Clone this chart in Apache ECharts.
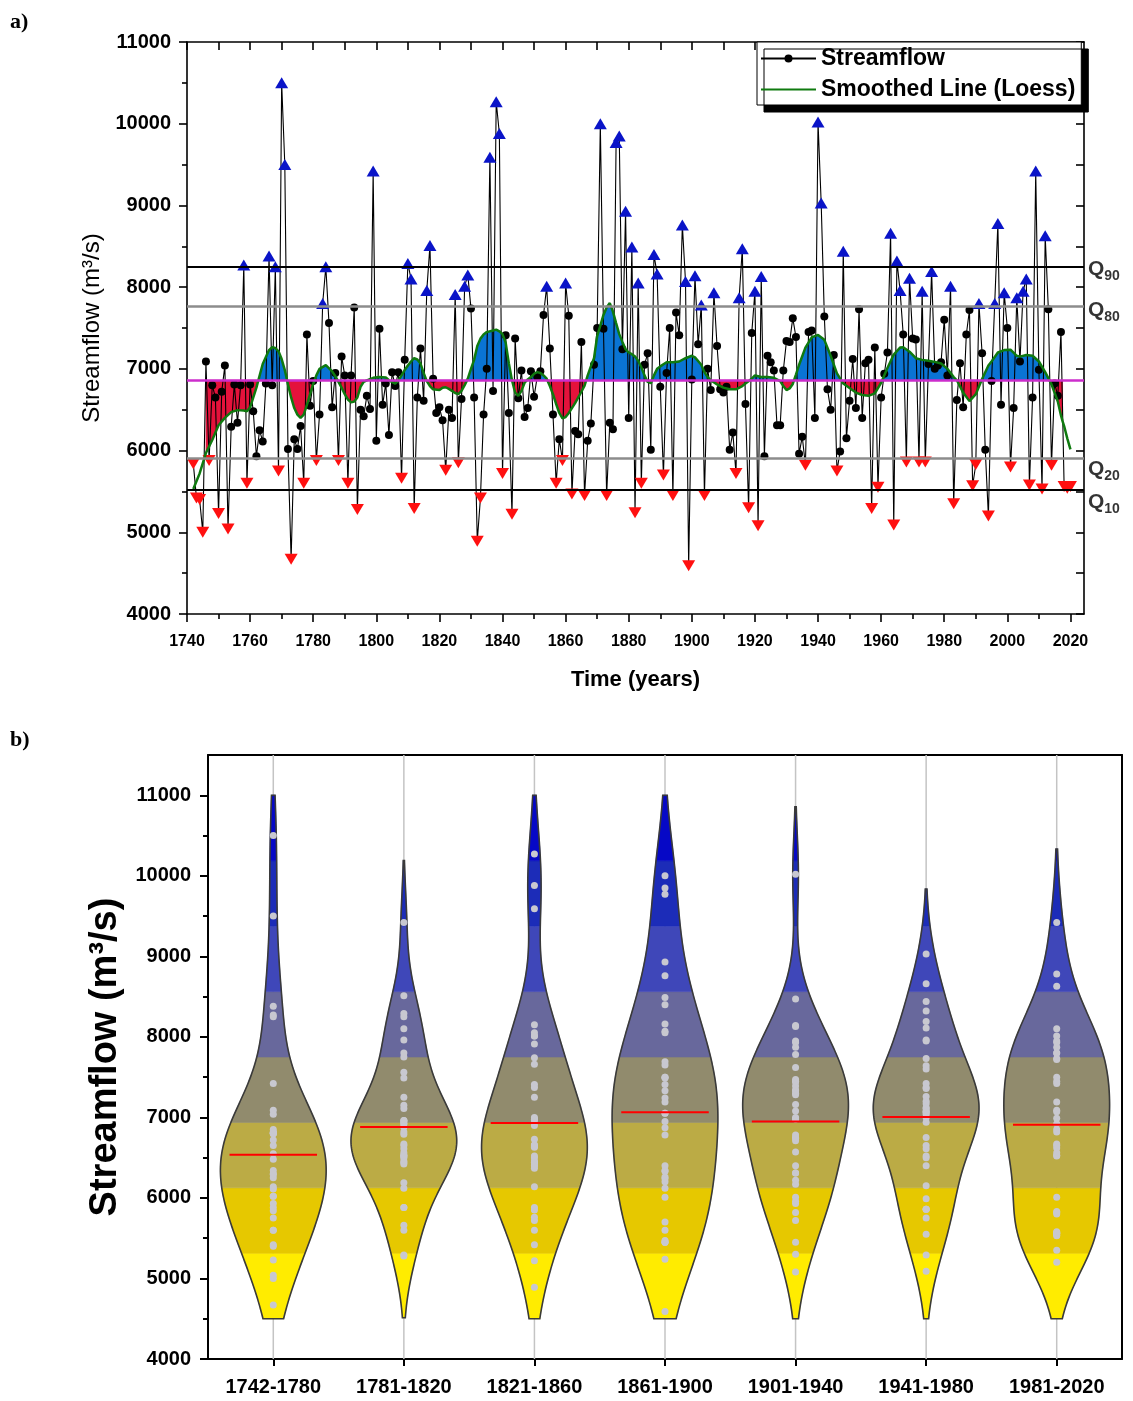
<!DOCTYPE html>
<html>
<head>
<meta charset="utf-8">
<script src="https://cdn.jsdelivr.net/npm/echarts@6/dist/echarts.min.js"></script>
<style>
  html, body { margin: 0; padding: 0; background: #fff; }
  #chart { width: 1133px; height: 1401px; }
</style>
</head>
<body>
<div id="chart"></div>
<script>
// ---------------- data ----------------
const firstYear = 1742;
// annual streamflow (m3/s), 1742-2020
const streamflow = [
  5840, 5420, 5400, 5000, 7090, 5880, 6800, 6650,
  5230, 6720, 7040, 5040, 6290, 6810, 6340, 6800, 8270, 5600,
  6810, 6480, 5930, 6250, 6110, 6820, 8380, 6800, 8250, 5750,
  10500, 9500, 6020, 4670, 6140, 6020, 6300, 5600, 7420, 6550,
  6850, 5880, 6440, 7800, 8250, 7560, 6530, 6950, 5880, 7150,
  6920, 5600, 6920, 7750, 5280, 6500, 6420, 6670, 6510, 9420,
  6120, 7490, 6560, 6820, 6190, 6960, 6790, 6960, 5660, 7110,
  8290, 8100, 5290, 6650, 7250, 6610, 7960, 8510, 6880, 6460,
  6530, 6370, 5760, 6500, 6400, 7910, 5850, 6630, 8010, 8150,
  7740, 6650, 4890, 5420, 6440, 7000, 9590, 6730, 10270, 9880,
  5720, 7410, 6460, 5220, 7370, 6640, 6980, 6410, 6520, 6970,
  6660, 6900, 6970, 7660, 8010, 7250, 6440, 5600, 6140, 5880,
  8050, 7650, 5470, 6240, 6200, 7330, 5450, 6120, 6330, 7050,
  7500, 10000, 7490, 5450, 6340, 6260, 9770, 9850, 7240, 8930,
  6400, 8490, 5240, 8050, 5600, 7050, 7190, 6010, 8400, 8160,
  6780, 5700, 6950, 7500, 5450, 7690, 7410, 8760, 8070, 4590,
  6870, 8140, 7300, 7780, 5450, 7000, 6740, 7930, 7280, 6750,
  6710, 6780, 6010, 6220, 5720, 7870, 8470, 6570, 5300, 7440,
  7950, 5080, 8130, 5930, 7160, 7080, 6980, 6310, 6310, 6980,
  7340, 7330, 7620, 7390, 5960, 6170, 5820, 7450, 7470, 6400,
  10020, 9030, 7640, 6750, 6500, 7170, 5750, 5990, 8440, 6150,
  6610, 7120, 6520, 7730, 6400, 7070, 7110, 5290, 7260, 5550,
  6650, 6940, 7200, 8660, 5090, 8320, 7960, 7420, 5860, 8110,
  7370, 7360, 5860, 7950, 5860, 7060, 8190, 7000, 7040, 7080,
  7600, 6920, 8010, 5350, 6620, 7070, 6530, 7420, 7720, 5570,
  5830, 7800, 7190, 6010, 5200, 6850, 7800, 8780, 6560, 7930,
  7500, 5800, 6520, 7870, 7090, 7950, 8100, 5580, 6650, 9420,
  6990, 5530, 8630, 7730, 5820, 6820, 6670, 7450, 5560, 5540, 5560
];

// Loess-smoothed streamflow
const loessYears = [
  1742, 1744, 1746, 1748, 1750, 1752, 1754, 1756, 1758, 1759, 1760, 1762, 1764, 1766, 1767, 1768, 1769,
  1770, 1771, 1772, 1773, 1774, 1775, 1776, 1777, 1778, 1779, 1780, 1781, 1782, 1784, 1786, 1787, 1788,
  1789, 1790, 1791, 1792, 1793, 1794, 1795, 1796, 1797, 1799, 1801, 1803, 1804, 1806, 1807, 1808, 1809,
  1810, 1811, 1812, 1813, 1814, 1815, 1816, 1817, 1818, 1820, 1821, 1822, 1823, 1824, 1825, 1826, 1827,
  1828, 1829, 1830, 1831, 1832, 1833, 1834, 1835, 1837, 1838, 1839, 1840, 1841, 1842, 1843, 1844, 1845,
  1846, 1847, 1848, 1849, 1850, 1851, 1852, 1853, 1854, 1855, 1856, 1857, 1858, 1859, 1860, 1861, 1862,
  1863, 1864, 1865, 1866, 1867, 1868, 1869, 1870, 1871, 1872, 1873, 1874, 1875, 1876, 1877, 1878, 1879,
  1880, 1881, 1882, 1883, 1884, 1885, 1886, 1887, 1888, 1889, 1890, 1892, 1894, 1896, 1898, 1900, 1901,
  1903, 1904, 1905, 1906, 1908, 1910, 1912, 1914, 1916, 1917, 1919, 1920, 1921, 1922, 1924, 1926, 1928,
  1929, 1930, 1931, 1932, 1933, 1934, 1936, 1938, 1940, 1942, 1944, 1946, 1948, 1950, 1952, 1954, 1956,
  1958, 1960, 1962, 1964, 1966, 1967, 1969, 1971, 1973, 1975, 1977, 1979, 1981, 1983, 1984, 1986, 1988,
  1990, 1992, 1994, 1995, 1997, 1999, 2001, 2003, 2004, 2006, 2008, 2010, 2012, 2014, 2016, 2017, 2017.5,
  2018, 2019, 2020
];
const loessValues = [
  5530, 5720, 5970, 6130, 6310, 6400, 6470, 6495, 6490, 6480, 6530, 6770, 7060, 7230, 7265, 7255, 7215,
  7120, 6985, 6810, 6650, 6520, 6440, 6400, 6440, 6560, 6690, 6815, 6920, 7000, 7045, 6970, 6910, 6840,
  6770, 6690, 6625, 6590, 6600, 6650, 6780, 6840, 6860, 6890, 6900, 6895, 6860, 6820, 6860, 6920, 6985,
  7040, 7090, 7130, 7115, 7065, 6950, 6850, 6790, 6750, 6740, 6770, 6775, 6755, 6730, 6705, 6690, 6730,
  6800, 6880, 7000, 7110, 7280, 7370, 7420, 7450, 7470, 7480, 7460, 7425, 7320, 7070, 6860, 6710, 6670,
  6730, 6830, 6870, 6900, 6940, 6960, 6950, 6920, 6880, 6790, 6690, 6570, 6460, 6395, 6410, 6460, 6520,
  6580, 6650, 6720, 6795, 6920, 7030, 7130, 7400, 7530, 7660, 7750, 7805, 7700, 7560, 7425, 7330, 7240,
  7200, 7180, 7150, 7100, 7020, 6920, 6840, 6825, 6920, 7000, 7030, 7080, 7080, 7090, 7130, 7160, 7140,
  7050, 6960, 6900, 6860, 6810, 6770, 6750, 6750, 6790, 6820, 6880, 6920, 6910, 6900, 6900, 6890, 6850,
  6790, 6740, 6760, 6815, 6930, 7050, 7260, 7385, 7415, 7355, 7160, 6945, 6820, 6765, 6710, 6680, 6670,
  6700, 6830, 7010, 7175, 7260, 7265, 7210, 7130, 7110, 7100, 7085, 7065, 7000, 6900, 6860, 6710, 6605,
  6690, 6875, 7040, 7090, 7200, 7230, 7235, 7160, 7150, 7170, 7160, 7090, 6960, 6810, 6600, 6430, 6360,
  6300, 6150, 6015
];

const meanFlow = 6860;
const quantileNames = ['90', '80', '20', '10'];
const quantileValues = [8250, 7770, 5900, 5520];
const fillFrom = 1746;
const fillTo = 2017.5;

const yearTicks = [1740, 1760, 1780, 1800, 1820, 1840, 1860, 1880, 1900, 1920, 1940, 1960, 1980, 2000, 2020];
const yearMinorTicks = [1750, 1770, 1790, 1810, 1830, 1850, 1870, 1890, 1910, 1930, 1950, 1970, 1990, 2010];
const flowTicks = [4000, 5000, 6000, 7000, 8000, 9000, 10000, 11000];
const flowMinorTicks = [4500, 5500, 6500, 7500, 8500, 9500, 10500];

const periodLabels = ['1742-1780', '1781-1820', '1821-1860', '1861-1900', '1901-1940', '1941-1980', '1981-2020'];
const periodStarts = [1742, 1781, 1821, 1861, 1901, 1941, 1981];
const periodEnds = [1780, 1820, 1860, 1900, 1940, 1980, 2020];
const periodMedians = [6535, 6880, 6930, 7065, 6950, 7005, 6910];

// flow classes used to colour the violins
const bandEdges = [4500, 5312.5, 6125, 6937.5, 7750, 8562.5, 9375, 10187.5, 11000];
const bandColors = ['#ffec00', '#e6c800', '#bbab45', '#918b6d', '#68689c', '#3f47b9', '#1c2cb8', '#0608c6'];

// ---------------- helpers ----------------
const SANS = '"Liberation Sans", Arial, sans-serif';
const xMax = 2024.3;
const plain = v => String(v);
const years = streamflow.map((_, i) => firstYear + i);
const highCut = quantileValues[1];
const lowCut = quantileValues[2];

const flowPoints = streamflow.map((v, i) => {
  if (v > highCut) {
    return { value: [years[i], v], symbol: 'triangle', symbolSize: [13, 11], itemStyle: { color: '#0a14c8' } };
  }
  if (v < lowCut) {
    return { value: [years[i], v], symbol: 'triangle', symbolRotate: 180, symbolSize: [13, 11], itemStyle: { color: '#ff1010' } };
  }
  return [years[i], v];
});
const loessPoints = loessYears.map((y, i) => [y, loessValues[i]]);

// Gaussian kernel density (normal-reference bandwidth), normalised to 1 at its peak
function kdeProfile(values) {
  const n = values.length;
  const m = values.reduce((a, b) => a + b, 0) / n;
  const sd = Math.sqrt(values.reduce((a, b) => a + (b - m) * (b - m), 0) / (n - 1));
  const s = values.slice().sort((a, b) => a - b);
  const h = 1.06 * sd * Math.pow(n, -0.2);
  const lo = Math.max(bandEdges[0], s[0] - 1.7 * h);
  const hi = Math.min(bandEdges[bandEdges.length - 1], s[n - 1] + 1.7 * h);
  let ys = [];
  for (let y = lo; y < hi; y += 25) ys.push(y);
  ys.push(hi);
  bandEdges.forEach(e => { if (e > lo && e < hi) ys.push(e); });
  ys = Array.from(new Set(ys)).sort((a, b) => a - b);
  const dens = ys.map(y => values.reduce((acc, v) => acc + Math.exp(-0.5 * ((y - v) / h) * ((y - v) / h)), 0));
  const mx = Math.max.apply(null, dens);
  return ys.map((y, i) => [y, dens[i] / mx]);
}

const periodValues = periodStarts.map((s, i) => streamflow.filter((_, j) => years[j] >= s && years[j] <= periodEnds[i]));
const violinProfiles = periodValues.map(kdeProfile);
const periodDots = [];
periodValues.forEach((vals, i) => vals.forEach(v => periodDots.push([i, v])));

function renderLoessFill(params, api) {
  const pts = loessPoints.filter(p => p[0] >= fillFrom && p[0] <= fillTo);
  const regions = [];
  let side = Math.sign(pts[0][1] - meanFlow) || 1;
  let poly = [[pts[0][0], meanFlow], pts[0]];
  for (let i = 1; i < pts.length; i++) {
    const x0 = pts[i - 1][0], v0 = pts[i - 1][1], x1 = pts[i][0], v1 = pts[i][1];
    const s = Math.sign(v1 - meanFlow);
    if (s !== 0 && s !== side) {
      const xc = x0 + (meanFlow - v0) / (v1 - v0) * (x1 - x0);
      poly.push([xc, meanFlow]);
      regions.push({ side, poly });
      poly = [[xc, meanFlow]];
      side = s;
    }
    poly.push(pts[i]);
  }
  poly.push([pts[pts.length - 1][0], meanFlow]);
  regions.push({ side, poly });
  return {
    type: 'group',
    children: regions.map(r => ({
      type: 'polygon',
      shape: { points: r.poly.map(p => api.coord(p)) },
      style: { fill: r.side > 0 ? '#0a74d4' : '#e4123b', stroke: r.side > 0 ? '#0a74d4' : '#e4123b', lineWidth: 0.5 }
    }))
  };
}

function renderViolin(params, api) {
  const idx = api.value(0);
  const prof = violinProfiles[idx];
  const cx = api.coord([idx, meanFlow])[0];
  const half = api.size([1, 0])[0] * 0.405;
  const top = params.coordSys.y, bottom = top + params.coordSys.height;
  const children = [{
    type: 'line', shape: { x1: cx, y1: top, x2: cx, y2: bottom },
    style: { stroke: '#c4c4c4', lineWidth: 1.5 }
  }];
  const pt = (p, sgn) => [cx + sgn * p[1] * half, api.coord([idx, p[0]])[1]];
  bandColors.forEach((c, k) => {
    const seg = prof.filter(p => p[0] >= bandEdges[k] && p[0] <= bandEdges[k + 1]);
    if (seg.length < 2) return;
    const pts = seg.map(p => pt(p, 1)).concat(seg.slice().reverse().map(p => pt(p, -1)));
    children.push({ type: 'polygon', shape: { points: pts }, style: { fill: c, stroke: c, lineWidth: 0.6 } });
  });
  const outline = prof.map(p => pt(p, 1)).concat(prof.slice().reverse().map(p => pt(p, -1)));
  children.push({ type: 'polygon', shape: { points: outline }, style: { fill: null, stroke: '#3a3a3a', lineWidth: 1.6 } });
  return { type: 'group', children };
}

function renderMedian(params, api) {
  const c = api.coord([api.value(0), api.value(1)]);
  const half = api.size([1, 0])[0] * 0.335;
  return { type: 'line', shape: { x1: c[0] - half, y1: c[1], x2: c[0] + half, y2: c[1] }, style: { stroke: '#ff0000', lineWidth: 2 } };
}

const axisLineStyle = { color: '#000', width: 1.6 };
const hiddenAxisBits = { axisLabel: { show: false }, splitLine: { show: false } };

const option = {
  animation: false,
  backgroundColor: '#fff',
  textStyle: { fontFamily: SANS },
  graphic: [
    { type: 'text', left: 10, top: 11, style: { text: 'a)', font: 'bold 22px "Liberation Serif", serif', fill: '#000' } },
    { type: 'text', left: 10, top: 729, style: { text: 'b)', font: 'bold 22px "Liberation Serif", serif', fill: '#000' } }
  ],
  legend: {
    data: [
      { name: 'Streamflow' },
      { name: 'Smoothed Line (Loess)', itemStyle: { opacity: 0 } }
    ],
    orient: 'vertical',
    left: 757, top: 42,
    padding: [5, 6, 4, 3],
    itemWidth: 55, itemHeight: 10, itemGap: 8,
    backgroundColor: '#fff', borderColor: '#000', borderWidth: 1,
    shadowColor: '#000', shadowBlur: 0, shadowOffsetX: 7, shadowOffsetY: 7,
    selectedMode: false,
    z: 10,
    textStyle: { fontFamily: SANS, fontSize: 23, fontWeight: 'bold', color: '#000' }
  },
  grid: [
    { left: 187, top: 42, width: 897, height: 572 },
    { left: 208, top: 755, width: 914, height: 604 }
  ],
  xAxis: [
    {
      type: 'value', gridIndex: 0, min: 1740, max: xMax, position: 'bottom',
      axisLine: { show: true, onZero: false, lineStyle: axisLineStyle },
      axisTick: { show: true, length: 8, customValues: yearTicks, lineStyle: axisLineStyle },
      axisLabel: { customValues: yearTicks, formatter: plain, margin: 20, fontFamily: SANS, fontWeight: 'bold', fontSize: 16, color: '#000' },
      splitLine: { show: false },
      name: 'Time (years)', nameLocation: 'middle', nameGap: 55,
      nameTextStyle: { fontFamily: SANS, fontWeight: 'bold', fontSize: 22, color: '#000' }
    },
    Object.assign({
      type: 'value', gridIndex: 0, min: 1740, max: xMax, position: 'bottom',
      axisLine: { show: false },
      axisTick: { show: true, length: 5, customValues: yearMinorTicks, lineStyle: axisLineStyle }
    }, hiddenAxisBits),
    Object.assign({
      type: 'value', gridIndex: 0, min: 1740, max: xMax, position: 'top',
      axisLine: { show: true, onZero: false, lineStyle: axisLineStyle },
      axisTick: { show: true, inside: true, length: 8, customValues: yearTicks.concat(yearMinorTicks), lineStyle: axisLineStyle }
    }, hiddenAxisBits),
    {
      type: 'category', gridIndex: 1, data: periodLabels, position: 'bottom',
      axisLine: { show: true, lineStyle: { color: '#000', width: 2 } },
      axisTick: { show: true, alignWithLabel: true, length: 7, lineStyle: { color: '#000', width: 2 } },
      axisLabel: { margin: 18, fontFamily: SANS, fontWeight: 'bold', fontSize: 20, color: '#000' },
      splitLine: { show: false }
    },
    Object.assign({
      type: 'value', gridIndex: 1, min: 0, max: 1, position: 'top',
      axisLine: { show: true, onZero: false, lineStyle: { color: '#000', width: 2 } },
      axisTick: { show: false }
    }, hiddenAxisBits)
  ],
  yAxis: [
    {
      type: 'value', gridIndex: 0, min: 4000, max: 11000, interval: 1000, position: 'left',
      axisLine: { show: true, onZero: false, lineStyle: axisLineStyle },
      axisTick: { show: true, length: 8, lineStyle: axisLineStyle },
      minorTick: { show: true, splitNumber: 2, length: 5, lineStyle: axisLineStyle },
      axisLabel: { formatter: plain, margin: 16, fontFamily: SANS, fontWeight: 'bold', fontSize: 20, color: '#000' },
      splitLine: { show: false }, minorSplitLine: { show: false },
      name: 'Streamflow (m³/s)', nameLocation: 'middle', nameGap: 77,
      nameTextStyle: { fontFamily: SANS, fontSize: 24, color: '#000' }
    },
    Object.assign({
      type: 'value', gridIndex: 0, min: 4000, max: 11000, interval: 500, position: 'right',
      axisLine: { show: true, onZero: false, lineStyle: axisLineStyle },
      axisTick: { show: true, inside: true, length: 8, lineStyle: axisLineStyle }
    }, hiddenAxisBits),
    {
      type: 'value', gridIndex: 1, min: 4000, max: 11500, position: 'left',
      axisLine: { show: true, onZero: false, lineStyle: { color: '#000', width: 2 } },
      axisTick: { show: true, length: 8, customValues: flowTicks, lineStyle: { color: '#000', width: 2 } },
      axisLabel: { customValues: flowTicks, formatter: plain, margin: 17, fontFamily: SANS, fontWeight: 'bold', fontSize: 20, color: '#000' },
      splitLine: { show: false },
      name: 'Streamflow (m³/s)', nameLocation: 'middle', nameGap: 77,
      nameTextStyle: { fontFamily: SANS, fontSize: 38, fontWeight: 'bold', color: '#000' }
    },
    Object.assign({
      type: 'value', gridIndex: 1, min: 4000, max: 11500, position: 'left',
      axisLine: { show: false },
      axisTick: { show: true, length: 5, customValues: flowMinorTicks, lineStyle: { color: '#000', width: 2 } }
    }, hiddenAxisBits),
    Object.assign({
      type: 'value', gridIndex: 1, min: 4000, max: 11500, position: 'right',
      axisLine: { show: true, onZero: false, lineStyle: { color: '#000', width: 2 } },
      axisTick: { show: false }
    }, hiddenAxisBits)
  ],
  series: [
    {
      name: 'loessFill', type: 'custom', xAxisIndex: 0, yAxisIndex: 0, z: 1, silent: true,
      data: [[1880, meanFlow]], renderItem: renderLoessFill
    },
    {
      name: 'Streamflow', type: 'line', xAxisIndex: 0, yAxisIndex: 0, z: 3,
      data: flowPoints,
      symbol: 'circle', symbolSize: 8, showSymbol: true,
      itemStyle: { color: '#000' },
      lineStyle: { color: '#000', width: 1.1 },
      markLine: {
        silent: true, symbol: 'none', animation: false,
        label: { show: false },
        data: [
          { yAxis: quantileValues[0], lineStyle: { color: '#000', width: 2, type: 'solid' } },
          { yAxis: quantileValues[1], lineStyle: { color: '#8c8c8c', width: 2.5, type: 'solid' } },
          { yAxis: meanFlow, lineStyle: { color: '#cc2ecc', width: 2.5, type: 'solid' } },
          { yAxis: quantileValues[2], lineStyle: { color: '#8c8c8c', width: 2.5, type: 'solid' } },
          { yAxis: quantileValues[3], lineStyle: { color: '#000', width: 2, type: 'solid' } }
        ]
      }
    },
    {
      name: 'Smoothed Line (Loess)', type: 'line', xAxisIndex: 0, yAxisIndex: 0, z: 4,
      data: loessPoints, symbol: 'none', smooth: false,
      itemStyle: { color: '#0f7a0f' },
      lineStyle: { color: '#0f7a0f', width: 2.5 }
    },
    {
      name: 'quantileTags', type: 'scatter', xAxisIndex: 0, yAxisIndex: 0, z: 5, silent: true, clip: false,
      symbolSize: 0,
      data: quantileValues.map((v, i) => ({
        value: [xMax, v],
        label: { offset: [0, [2, 4, 10, 12][i]] }
      })),
      label: {
        show: true, position: 'right', distance: 4,
        formatter: p => '{q|Q}{s|' + quantileNames[p.dataIndex] + '}',
        rich: {
          q: { fontFamily: SANS, fontSize: 21, fontWeight: 'bold', color: '#000', lineHeight: 28 },
          s: { fontFamily: SANS, fontSize: 14, fontWeight: 'bold', color: '#000', lineHeight: 14, verticalAlign: 'bottom' }
        }
      }
    },
    {
      name: 'violins', type: 'custom', xAxisIndex: 3, yAxisIndex: 2, z: 2, silent: true,
      data: periodLabels.map((_, i) => [i]), renderItem: renderViolin
    },
    {
      name: 'periodDots', type: 'scatter', xAxisIndex: 3, yAxisIndex: 2, z: 3, silent: true,
      data: periodDots, symbolSize: 7, itemStyle: { color: '#c8c8d0', opacity: 1 }
    },
    {
      name: 'medians', type: 'custom', xAxisIndex: 3, yAxisIndex: 2, z: 4, silent: true,
      data: periodMedians.map((m, i) => [i, m]), renderItem: renderMedian
    }
  ]
};

const chart = echarts.init(document.getElementById('chart'), null, { renderer: 'canvas', width: 1133, height: 1401 });
chart.setOption(option);
</script>
</body>
</html>
